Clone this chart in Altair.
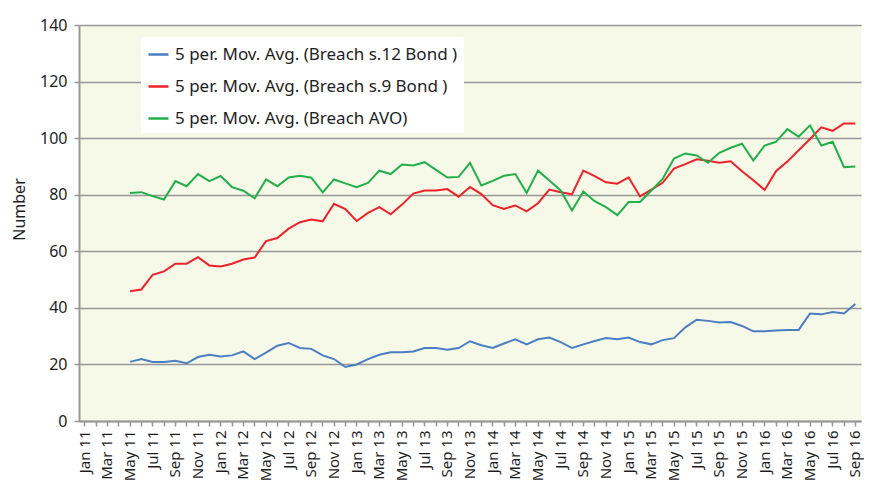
import altair as alt
import pandas as pd

month_names = ["Jan", "Feb", "Mar", "Apr", "May", "Jun", "Jul", "Aug", "Sep", "Oct", "Nov", "Dec"]
months = [f"{m} {y}" for y in range(11, 17) for m in month_names][:69]  # Jan 11 .. Sep 16
data_months = months[4:]  # May 11 .. Sep 16

series_names = [
    "5 per. Mov. Avg. (Breach s.12 Bond )",
    "5 per. Mov. Avg. (Breach s.9 Bond )",
    "5 per. Mov. Avg. (Breach AVO)",
]
series_colors = ["#4A7EC2", "#EE2229", "#22AF4B"]

s12_bond = [
    20.9, 21.9, 20.9, 20.9, 21.3, 20.4, 22.6, 23.4, 22.8, 23.2,
    24.6, 21.9, 24.2, 26.6, 27.6, 25.8, 25.5, 23.2, 21.9, 19.1,
    20.0, 21.9, 23.4, 24.3, 24.3, 24.6, 25.8, 25.8, 25.2, 25.8,
    28.2, 26.8, 25.8, 27.4, 28.9, 27.1, 28.9, 29.5, 27.9, 25.8,
    27.1, 28.3, 29.3, 28.9, 29.5, 27.9, 27.1, 28.6, 29.3, 33.1,
    35.8, 35.4, 34.8, 35.0, 33.6, 31.7, 31.7, 32.0, 32.2, 32.2,
    38.0, 37.7, 38.5, 38.0, 41.4,
]
s9_bond = [
    45.9, 46.5, 51.7, 52.9, 55.6, 55.6, 57.9, 55.0, 54.6, 55.6,
    57.1, 57.8, 63.6, 64.7, 68.0, 70.3, 71.2, 70.6, 76.8, 74.9,
    70.7, 73.6, 75.6, 73.1, 76.5, 80.4, 81.5, 81.5, 82.0, 79.3,
    82.7, 80.2, 76.3, 75.0, 76.2, 74.1, 77.0, 81.8, 80.9, 80.2,
    88.5, 86.6, 84.4, 83.9, 86.1, 79.4, 81.8, 84.2, 89.2, 90.8,
    92.5, 92.0, 91.3, 91.8, 88.3, 85.1, 81.7, 88.3, 91.7, 95.7,
    99.7, 103.8, 102.6, 105.2, 105.2,
]
avo = [
    80.6, 80.9, 79.5, 78.3, 84.8, 83.0, 87.3, 84.8, 86.6, 82.7,
    81.4, 78.7, 85.4, 83.0, 86.1, 86.7, 86.0, 80.8, 85.4, 84.0,
    82.7, 84.2, 88.5, 87.3, 90.7, 90.3, 91.5, 88.8, 86.1, 86.3,
    91.3, 83.3, 84.9, 86.7, 87.3, 80.6, 88.5, 85.0, 81.5, 74.4,
    81.1, 77.7, 75.6, 72.8, 77.4, 77.4, 81.5, 85.6, 92.8, 94.6,
    93.9, 91.3, 94.8, 96.6, 98.0, 92.1, 97.4, 98.7, 103.2, 100.5,
    104.5, 97.4, 98.7, 89.7, 90.0,
]
y_ticks = [0, 20, 40, 60, 80, 100, 120, 140]

rows = []
for name, vals in zip(series_names, [s12_bond, s9_bond, avo]):
    for m, v in zip(data_months, vals):
        rows.append({"month": m, "value": v, "series": name})
df = pd.DataFrame(rows)

FONT = "Noto Sans"
GRAY = "#979797"
TXT = "#1E1E1E"

label_expr = ("(slice(datum.value, 0, 3) == 'Jan' || slice(datum.value, 0, 3) == 'Mar' || "
              "slice(datum.value, 0, 3) == 'May' || slice(datum.value, 0, 3) == 'Jul' || "
              "slice(datum.value, 0, 3) == 'Sep' || slice(datum.value, 0, 3) == 'Nov') ? datum.value : ''")

chart = alt.Chart(df).mark_line(strokeWidth=2).encode(
    x=alt.X(
        "month:O",
        scale=alt.Scale(type="band", domain=months, paddingInner=0, paddingOuter=0),
        axis=alt.Axis(
            title=None,
            labelAngle=-90,
            labelExpr=label_expr,
            labelFontSize=15,
            labelColor=TXT,
            labelPadding=4,
            labelOverlap=False,
            tickSize=5,
            tickColor=GRAY,
            tickWidth=1.5,
            domainColor=GRAY,
            domainWidth=2,
            grid=False,
        ),
    ),
    y=alt.Y(
        "value:Q",
        scale=alt.Scale(domain=[0, 140], nice=False),
        axis=alt.Axis(
            values=y_ticks,
            title="Number",
            titleFontSize=16,
            titleFontWeight="normal",
            titleColor=TXT,
            titlePadding=12,
            titleY=184,
            labelFontSize=16,
            labelColor=TXT,
            labelPadding=7,
            tickSize=5,
            tickColor=GRAY,
            tickWidth=1.5,
            domainColor=GRAY,
            domainWidth=2,
            gridColor=GRAY,
            gridWidth=1.5,
        ),
    ),
    color=alt.Color(
        "series:N",
        scale=alt.Scale(domain=series_names, range=series_colors),
        legend=alt.Legend(
            title=None,
            orient="none",
            legendX=62,
            legendY=12,
            fillColor="white",
            padding=6,
            symbolType="stroke",
            symbolSize=400,
            symbolStrokeWidth=2.5,
            labelFontSize=17,
            labelColor=TXT,
            labelOffset=5,
            labelLimit=400,
            rowPadding=12,
        ),
    ),
).properties(
    width=782,
    height=396,
    autosize="none",
    padding={"left": 71, "top": 17, "right": 3, "bottom": 63},
).configure(
    font=FONT,
).configure_view(
    fill="#F7F9E8",
    strokeOpacity=0,
)

chart.save("out.html", embed_options={"renderer": "svg", "actions": False})
